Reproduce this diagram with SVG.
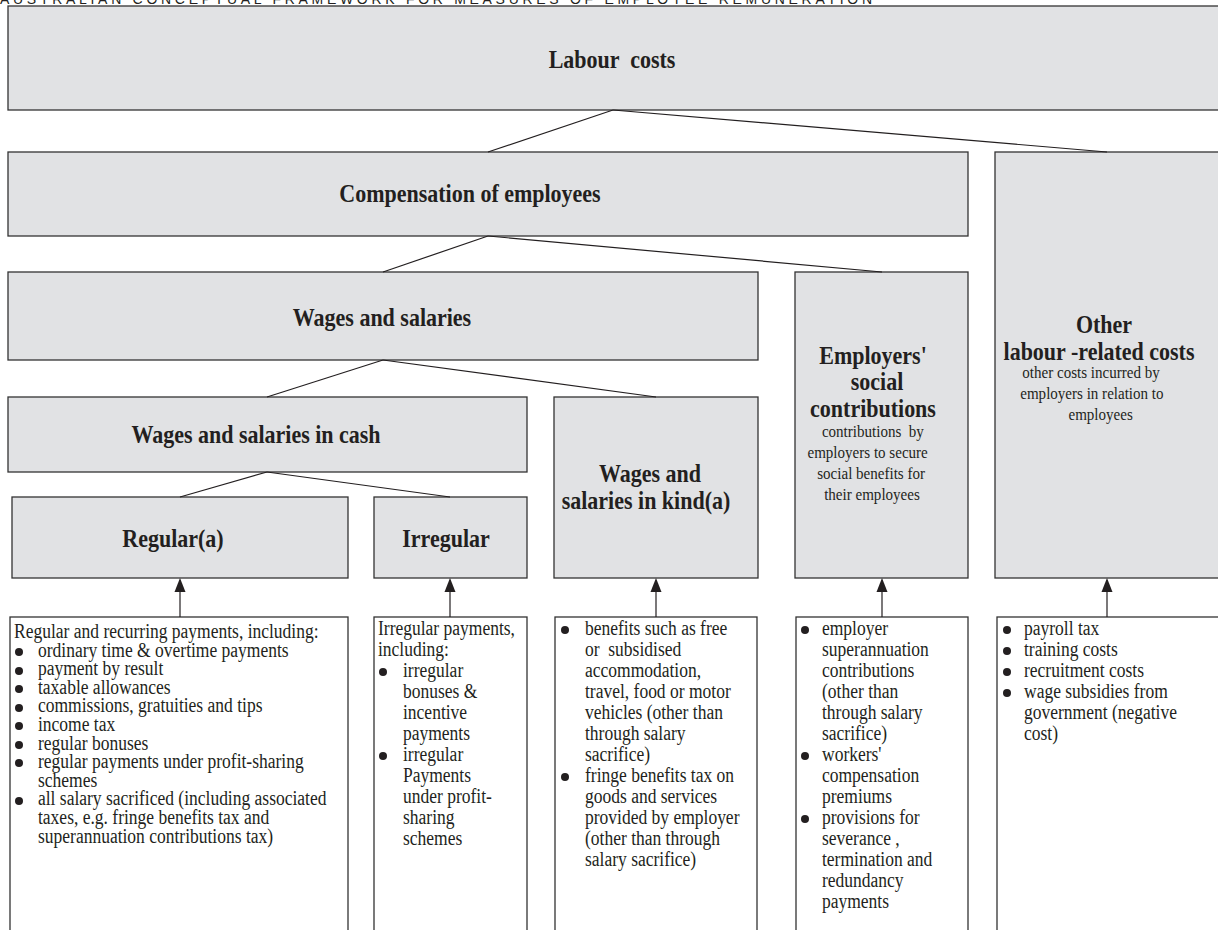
<svg xmlns="http://www.w3.org/2000/svg" width="1218" height="930" viewBox="0 0 1218 930">
<style>
.box{fill:#e1e2e4;stroke:#333;stroke-width:1.3}
.tbox{fill:#fff;stroke:#333;stroke-width:1.3}
.h{font-family:"Liberation Serif",serif;font-weight:bold;font-size:25px;fill:#231f20;text-anchor:middle}
.s{font-family:"Liberation Serif",serif;font-size:17.2px;fill:#231f20;text-anchor:middle}
.b{font-family:"Liberation Serif",serif;font-size:20px;fill:#231f20}
.title{font-family:"Liberation Sans",sans-serif;font-size:14px;fill:#231f20}
.con line{stroke:#231f20;stroke-width:1.2}
.ah{fill:#231f20}
.bul{fill:#231f20}
</style>
<rect width="1218" height="930" fill="#fff"/>
<text class="title" x="0" y="3.5" textLength="872" lengthAdjust="spacing">AUSTRALIAN CONCEPTUAL FRAMEWORK FOR MEASURES OF EMPLOYEE REMUNERATION</text>

<g id="labour-costs"><rect class="box" x="8" y="6" width="1216" height="104"/><text class="h" transform="translate(612 68) scale(.88 1)" xml:space="preserve">Labour  costs</text></g>
<g id="compensation"><rect class="box" x="8" y="152" width="960" height="84"/><text class="h" transform="translate(470 202) scale(.88 1)">Compensation of employees</text></g>
<g id="other-costs"><rect class="box" x="995" y="152" width="230" height="426"/>
<text class="h" transform="translate(1104 333) scale(.88 1)">Other</text>
<text class="h" transform="translate(1099 360) scale(.88 1)">labour -related costs</text>
<g transform="translate(1091 0) scale(.875 1)">
<text class="s" x="0" y="378">other costs incurred by</text>
<text class="s" x="1" y="399">employers in relation to</text>
<text class="s" x="11" y="420">employees</text></g></g>
<g id="wages-salaries"><rect class="box" x="8" y="272" width="750" height="88"/><text class="h" transform="translate(382 326) scale(.88 1)">Wages and salaries</text></g>
<g id="employers-social"><rect class="box" x="795" y="272" width="173" height="306"/>
<text class="h" transform="translate(873 364) scale(.88 1)">Employers'</text>
<text class="h" transform="translate(877 390) scale(.88 1)">social</text>
<text class="h" transform="translate(873 417) scale(.88 1)">contributions</text>
<g transform="translate(872 0) scale(.875 1)">
<text class="s" x="1" y="437" xml:space="preserve">contributions  by</text>
<text class="s" x="-5" y="458">employers to secure</text>
<text class="s" x="-1" y="479">social benefits for</text>
<text class="s" x="0" y="500">their employees</text></g></g>
<g id="cash"><rect class="box" x="8" y="397" width="519" height="75"/><text class="h" transform="translate(256 443) scale(.88 1)">Wages and salaries in cash</text></g>
<g id="kind"><rect class="box" x="554" y="397" width="204" height="181"/>
<text class="h" transform="translate(650 482) scale(.88 1)">Wages and</text>
<text class="h" transform="translate(646 509) scale(.88 1)">salaries in kind(a)</text></g>
<g id="regular"><rect class="box" x="12" y="497" width="336" height="81"/><text class="h" transform="translate(173 547) scale(.88 1)">Regular(a)</text></g>
<g id="irregular"><rect class="box" x="374" y="497" width="153" height="81"/><text class="h" transform="translate(446 547) scale(.88 1)">Irregular</text></g>

<g id="regular-detail"><rect class="tbox" x="10" y="617" width="338" height="330"/>
<g class="bul"><circle cx="19" cy="652" r="4"/><circle cx="19" cy="671" r="4"/><circle cx="19" cy="689" r="4"/><circle cx="19" cy="708" r="4"/><circle cx="19" cy="726" r="4"/><circle cx="19" cy="745" r="4"/><circle cx="19" cy="763" r="4"/><circle cx="19" cy="801" r="4"/></g>
<g transform="translate(38 0) scale(.875 1)">
<text class="b" x="-27.4" y="638">Regular and recurring payments, including:</text>
<text class="b" x="0" y="656.6">ordinary time &amp; overtime payments</text>
<text class="b" x="0" y="675.2">payment by result</text>
<text class="b" x="0" y="693.8">taxable allowances</text>
<text class="b" x="0" y="712.4">commissions, gratuities and tips</text>
<text class="b" x="0" y="731">income tax</text>
<text class="b" x="0" y="749.6">regular bonuses</text>
<text class="b" x="0" y="768.2">regular payments under profit-sharing</text>
<text class="b" x="0" y="786.8">schemes</text>
<text class="b" x="0" y="805.4">all salary sacrificed (including associated</text>
<text class="b" x="0" y="824">taxes, e.g. fringe benefits tax and</text>
<text class="b" x="0" y="842.6">superannuation contributions tax)</text></g></g>

<g id="irregular-detail"><rect class="tbox" x="374" y="617" width="153" height="330"/>
<g class="bul"><circle cx="383" cy="672" r="4"/><circle cx="383" cy="756" r="4"/></g>
<g transform="translate(403 0) scale(.875 1)">
<text class="b" x="-28.6" y="635">Irregular payments,</text>
<text class="b" x="-28.6" y="656">including:</text>
<text class="b" x="0" y="677">irregular</text>
<text class="b" x="0" y="698">bonuses &amp;</text>
<text class="b" x="0" y="719">incentive</text>
<text class="b" x="0" y="740">payments</text>
<text class="b" x="0" y="761">irregular</text>
<text class="b" x="0" y="782">Payments</text>
<text class="b" x="0" y="803">under profit-</text>
<text class="b" x="0" y="824">sharing</text>
<text class="b" x="0" y="845">schemes</text></g></g>

<g id="kind-detail"><rect class="tbox" x="555" y="617" width="202" height="330"/>
<g class="bul"><circle cx="565" cy="630" r="4"/><circle cx="565" cy="777" r="4"/></g>
<g transform="translate(585 0) scale(.875 1)">
<text class="b" x="0" y="635">benefits such as free</text>
<text class="b" x="0" y="656" xml:space="preserve">or  subsidised</text>
<text class="b" x="0" y="677">accommodation,</text>
<text class="b" x="0" y="698">travel, food or motor</text>
<text class="b" x="0" y="719">vehicles (other than</text>
<text class="b" x="0" y="740">through salary</text>
<text class="b" x="0" y="761">sacrifice)</text>
<text class="b" x="0" y="782">fringe benefits tax on</text>
<text class="b" x="0" y="803">goods and services</text>
<text class="b" x="0" y="824">provided by employer</text>
<text class="b" x="0" y="845">(other than through</text>
<text class="b" x="0" y="866">salary sacrifice)</text></g></g>

<g id="employers-detail"><rect class="tbox" x="796" y="617" width="172" height="330"/>
<g class="bul"><circle cx="805" cy="630" r="4"/><circle cx="805" cy="756" r="4"/><circle cx="805" cy="819" r="4"/></g>
<g transform="translate(822 0) scale(.875 1)">
<text class="b" x="0" y="635">employer</text>
<text class="b" x="0" y="656">superannuation</text>
<text class="b" x="0" y="677">contributions</text>
<text class="b" x="0" y="698">(other than</text>
<text class="b" x="0" y="719">through salary</text>
<text class="b" x="0" y="740">sacrifice)</text>
<text class="b" x="0" y="761">workers'</text>
<text class="b" x="0" y="782">compensation</text>
<text class="b" x="0" y="803">premiums</text>
<text class="b" x="0" y="824">provisions for</text>
<text class="b" x="0" y="845" xml:space="preserve">severance ,</text>
<text class="b" x="0" y="866">termination and</text>
<text class="b" x="0" y="887">redundancy</text>
<text class="b" x="0" y="908">payments</text></g></g>

<g id="other-detail"><rect class="tbox" x="997" y="617" width="230" height="330"/>
<g class="bul"><circle cx="1007" cy="630" r="4"/><circle cx="1007" cy="651" r="4"/><circle cx="1007" cy="672" r="4"/><circle cx="1007" cy="693" r="4"/></g>
<g transform="translate(1024 0) scale(.875 1)">
<text class="b" x="0" y="635">payroll tax</text>
<text class="b" x="0" y="656">training costs</text>
<text class="b" x="0" y="677">recruitment costs</text>
<text class="b" x="0" y="698">wage subsidies from</text>
<text class="b" x="0" y="719">government (negative</text>
<text class="b" x="0" y="740">cost)</text></g></g>

<g id="connectors" class="con">
<line x1="613" y1="110" x2="488" y2="152"/>
<line x1="613" y1="110" x2="1107" y2="152"/>
<line x1="488" y1="236" x2="383" y2="272"/>
<line x1="488" y1="236" x2="882" y2="272"/>
<line x1="383" y1="360" x2="267" y2="397"/>
<line x1="383" y1="360" x2="656" y2="397"/>
<line x1="267" y1="472" x2="180" y2="497"/>
<line x1="267" y1="472" x2="450" y2="497"/>
<line x1="180" y1="617" x2="180" y2="590"/>
<line x1="450" y1="617" x2="450" y2="590"/>
<line x1="656" y1="617" x2="656" y2="590"/>
<line x1="882" y1="617" x2="882" y2="590"/>
<line x1="1107" y1="617" x2="1107" y2="590"/>
<path class="ah" d="M180,578 L185.5,592 L174.5,592 Z"/>
<path class="ah" d="M450,578 L455.5,592 L444.5,592 Z"/>
<path class="ah" d="M656,578 L661.5,592 L650.5,592 Z"/>
<path class="ah" d="M882,578 L887.5,592 L876.5,592 Z"/>
<path class="ah" d="M1107,578 L1112.5,592 L1101.5,592 Z"/>
</g>
</svg>
